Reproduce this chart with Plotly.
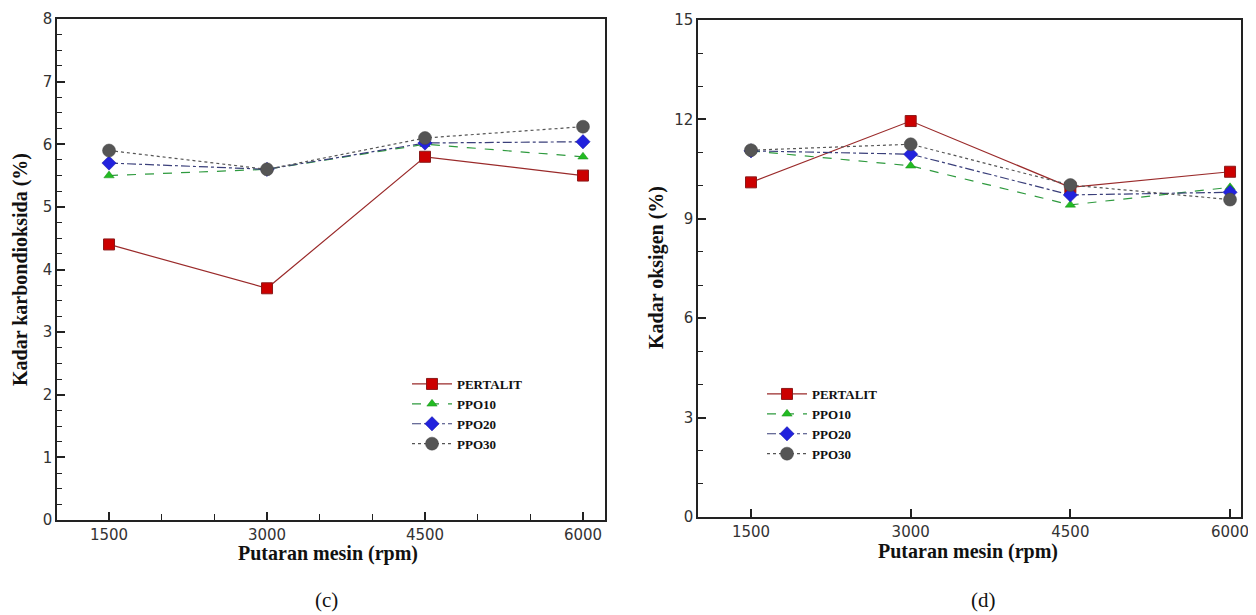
import plotly.graph_objects as go

rpm = [1500, 3000, 4500, 6000]
series_names = ["PERTALIT", "PPO10", "PPO20", "PPO30"]

co2_pertalit = [4.4, 3.7, 5.8, 5.5]
co2_ppo10 = [5.5, 5.6, 6.0, 5.8]
co2_ppo20 = [5.7, 5.6, 6.02, 6.04]
co2_ppo30 = [5.9, 5.6, 6.1, 6.28]

o2_pertalit = [10.1, 11.95, 9.95, 10.42]
o2_ppo10 = [11.05, 10.6, 9.42, 9.95]
o2_ppo20 = [11.05, 10.95, 9.72, 9.8]
o2_ppo30 = [11.07, 11.25, 10.02, 9.58]

# page has an 8px body margin; figure is sized so that it fills the window
OFF = 8
W, H = 1256 - OFF, 615 - OFF


def px_x(X):
    return (X - OFF) / W


def px_y(Y):
    return 1 - (Y - OFF) / H


styles = [
    dict(line=dict(color="#9a2a2a", width=1.2, dash="solid"),
         marker=dict(symbol="square", size=11, color="#cc0000", line=dict(color="#8b1a1a", width=1))),
    dict(line=dict(color="#2e9a3e", width=1.2, dash="dash"),
         marker=dict(symbol="triangle-up", size=9, color="#22bb22", line=dict(color="#1a8a1a", width=0.5))),
    dict(line=dict(color="#3a3f7a", width=1.2, dash="dashdot"),
         marker=dict(symbol="diamond", size=11, color="#2222dd", line=dict(color="#1a1aa0", width=0.5))),
    dict(line=dict(color="#555555", width=1.2, dash="dot"),
         marker=dict(symbol="circle", size=13, color="#555555", line=dict(color="#444444", width=0.5))),
]

fig = go.Figure()

co2_data = [co2_pertalit, co2_ppo10, co2_ppo20, co2_ppo30]
o2_data = [o2_pertalit, o2_ppo10, o2_ppo20, o2_ppo30]

for name, vals, st in zip(series_names, co2_data, styles):
    fig.add_trace(go.Scatter(x=rpm, y=vals, name=name, mode="lines+markers",
                             line=st["line"], marker=st["marker"],
                             xaxis="x", yaxis="y", legend="legend"))
for name, vals, st in zip(series_names, o2_data, styles):
    fig.add_trace(go.Scatter(x=rpm, y=vals, name=name, mode="lines+markers",
                             line=st["line"], marker=st["marker"],
                             xaxis="x2", yaxis="y2", legend="legend2"))

tickfont = dict(family="DejaVu Sans", size=15, color="#333333")
titlefont = dict(family="Liberation Serif", size=20, color="#111111", weight="bold")
legfont = dict(family="Liberation Serif", size=13, color="#111111", weight="bold")

common_axis = dict(showline=True, linecolor="#222222", linewidth=1.5, mirror=True,
                   showgrid=False, zeroline=False, ticks="inside", tickcolor="#222222",
                   tickwidth=2, tickfont=tickfont, automargin=False)

fig.update_layout(
    width=W, height=H,
    margin=dict(l=0, r=0, t=0, b=0, autoexpand=False),
    paper_bgcolor="white", plot_bgcolor="white",
    xaxis=dict(domain=[px_x(57), px_x(605)], range=[1006, 6209], tickvals=rpm, ticklen=8,
               minor=dict(dtick=500, tick0=0, ticks="inside", ticklen=6, tickcolor="#222222", tickwidth=1),
               anchor="y", **common_axis),
    yaxis=dict(domain=[px_y(520), px_y(19)], range=[0, 8], dtick=1, ticklen=8,
               minor=dict(dtick=0.25, ticks="inside", ticklen=5, tickcolor="#222222", tickwidth=1),
               anchor="x", **common_axis),
    xaxis2=dict(domain=[px_x(698), px_x(1241)], range=[1002, 6103], tickvals=rpm, ticklen=8,
                anchor="y2", **common_axis),
    yaxis2=dict(domain=[px_y(517), px_y(20)], range=[0, 15], dtick=3, ticklen=8,
                minor=dict(dtick=1, ticks="inside", ticklen=5, tickcolor="#222222", tickwidth=1),
                anchor="x2", **common_axis),
    legend=dict(x=px_x(407), y=px_y(369), xanchor="left", yanchor="top", font=legfont,
                bgcolor="rgba(255,255,255,0)", tracegroupgap=0, itemwidth=40),
    legend2=dict(x=px_x(762), y=px_y(379), xanchor="left", yanchor="top", font=legfont,
                 bgcolor="rgba(255,255,255,0)", tracegroupgap=0, itemwidth=40),
    showlegend=True,
)


def paper_text(text, X, Y, font, angle=0):
    fig.add_annotation(text=text, x=px_x(X), y=px_y(Y), xref="paper", yref="paper",
                       xanchor="center", yanchor="middle", showarrow=False, textangle=angle,
                       font=font)


paper_text("Kadar karbondioksida (%)", 21, 270, titlefont, -90)
paper_text("Kadar oksigen (%)", 656, 268, titlefont, -90)
paper_text("Putaran mesin (rpm)", 328, 553, titlefont)
paper_text("Putaran mesin (rpm)", 968, 551, titlefont)
capfont = dict(family="Liberation Serif", size=21, color="#111111")
paper_text("(c)", 326, 600, capfont)
paper_text("(d)", 983, 600, capfont)

fig.write_html("out.html")
